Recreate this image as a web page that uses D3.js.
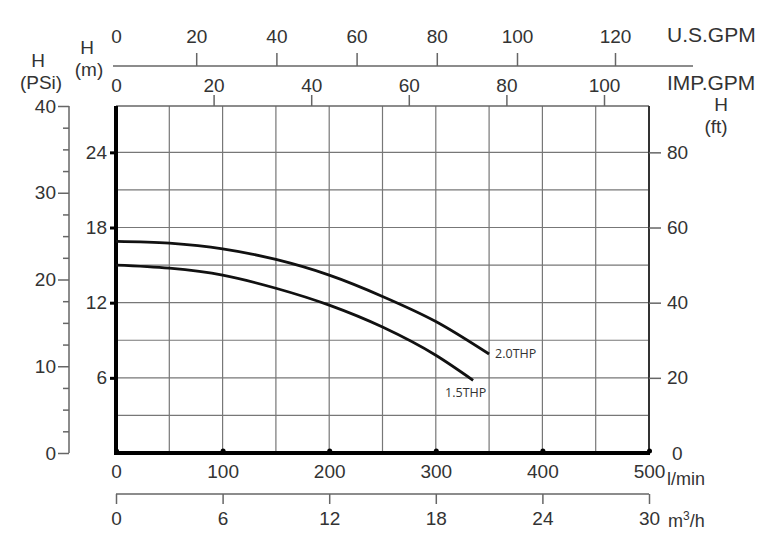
<!DOCTYPE html>
<html>
<head>
<meta charset="utf-8">
<script src="https://cdn.jsdelivr.net/npm/d3@7"></script>
<style>
  body { margin: 0; background: #fff; }
  svg text { font-family: "Liberation Sans", Arial, sans-serif; fill: #333; }
</style>
</head>
<body>
<div id="chart"></div>
<script>
// pump curves, flow in l/min and head in m
const flow20 = [0, 50, 100, 150, 200, 250, 300, 350];
const head20 = [16.9, 16.75, 16.3, 15.45, 14.2, 12.5, 10.5, 7.9];
const flow15 = [0, 50, 100, 150, 200, 250, 300, 335];
const head15 = [15.0, 14.75, 14.2, 13.15, 11.8, 10.05, 7.8, 5.8];
const curveNames = ["2.0THP", "1.5THP"];

// tick labels for every scale
const lminTicks = [0, 100, 200, 300, 400, 500];
const m3hTicks = [0, 6, 12, 18, 24, 30];
const usTicks = [0, 20, 40, 60, 80, 100, 120];
const impTicks = [0, 20, 40, 60, 80, 100];
const mTicks = [6, 12, 18, 24];
const ftTicks = [0, 20, 40, 60, 80];
const psiTicks = [0, 10, 20, 30, 40];

const width = 778, height = 542;
const plot = { left: 116, right: 649, top: 106, bottom: 453 };

const svg = d3.select("#chart").append("svg")
    .attr("width", width).attr("height", height);

// scales
const x = d3.scaleLinear().domain([0, 500]).range([plot.left, plot.right]);
const xM3 = d3.scaleLinear().domain([0, 30]).range([plot.left, plot.right]);
const xImp = d3.scaleLinear().domain([0, 100]).range([plot.left, 604]);
// the printed US scale is not quite even at the end
const xUs = d3.scaleLinear().domain([0, 100, 120]).range([plot.left, 517, 615]);
const yM = d3.scaleLinear().domain([0, 27.7]).range([plot.bottom, plot.top]);
const yFt = d3.scaleLinear().domain([0, 27.7 * 80 / 24]).range([plot.bottom, plot.top]);
const yPsi = d3.scaleLinear().domain([0, 40]).range([plot.bottom, plot.top]);

// grid
const gridG = svg.append("g").attr("class", "grid")
    .attr("stroke", "#777").attr("stroke-width", 1.2);

gridG.selectAll("line.v")
    .data(d3.range(50, 500, 50))
    .join("line")
    .attr("class", "v")
    .attr("x1", d => x(d)).attr("x2", d => x(d))
    .attr("y1", plot.top).attr("y2", plot.bottom);

gridG.selectAll("line.h")
    .data(d3.range(3, 25, 3))
    .join("line")
    .attr("class", "h")
    .attr("x1", plot.left).attr("x2", plot.right)
    .attr("y1", d => yM(d)).attr("y2", d => yM(d));

// frame: top thin, right medium, left + bottom thick
svg.append("line").attr("x1", plot.left).attr("x2", plot.right)
    .attr("y1", plot.top).attr("y2", plot.top)
    .attr("stroke", "#666").attr("stroke-width", 1.5);
svg.append("line").attr("x1", plot.right).attr("x2", plot.right)
    .attr("y1", plot.top).attr("y2", plot.bottom)
    .attr("stroke", "#333").attr("stroke-width", 2);
svg.append("line").attr("x1", plot.left).attr("x2", plot.left)
    .attr("y1", plot.top).attr("y2", plot.bottom)
    .attr("stroke", "#000").attr("stroke-width", 4);
svg.append("line").attr("x1", plot.left - 2).attr("x2", plot.right + 1)
    .attr("y1", plot.bottom).attr("y2", plot.bottom)
    .attr("stroke", "#000").attr("stroke-width", 4);

// helper to style an axis group
const styleAxis = (g, color, tw) => {
    g.select(".domain").remove();
    g.selectAll(".tick line").attr("stroke", color).attr("stroke-width", tw);
    g.selectAll(".tick text").attr("fill", "#333")
        .style("font-size", "19px");
};

// bottom l/min axis
const lminG = svg.append("g")
    .attr("transform", `translate(0,${plot.bottom})`)
    .call(d3.axisBottom(x).tickValues(lminTicks).tickSize(0).tickPadding(12))
    .call(g => styleAxis(g, "#000", 3));
lminG.selectAll(".tick").append("circle")
    .attr("r", 2.5).attr("cy", -2).attr("fill", "#000");

svg.append("text").attr("x", 667).attr("y", 485)
    .style("font-size", "18px").text("l/min");

// bottom m3/h axis
const m3Y = 494;
svg.append("line").attr("x1", xM3(0)).attr("x2", xM3(30))
    .attr("y1", m3Y).attr("y2", m3Y)
    .attr("stroke", "#666").attr("stroke-width", 1.5);
svg.append("g")
    .attr("transform", `translate(0,${m3Y})`)
    .call(d3.axisBottom(xM3).tickValues(m3hTicks).tickSize(10).tickPadding(8))
    .call(g => styleAxis(g, "#666", 1.5));

const m3Label = svg.append("text").attr("x", 668).attr("y", 527)
    .style("font-size", "18px");
m3Label.append("tspan").text("m");
m3Label.append("tspan").attr("dy", -7).style("font-size", "12px").text("3");
m3Label.append("tspan").attr("dy", 7).text("/h");

// top US GPM axis
const usY = 66;
svg.append("line").attr("x1", plot.left - 3).attr("x2", 693)
    .attr("y1", usY).attr("y2", usY)
    .attr("stroke", "#666").attr("stroke-width", 1.5);
svg.append("g")
    .attr("transform", `translate(0,${usY})`)
    .call(d3.axisTop(xUs).tickValues(usTicks).tickSize(13).tickPadding(10))
    .call(g => styleAxis(g, "#666", 1.5))
    .call(g => g.selectAll(".tick").filter(d => d === 0).select("line").remove());

svg.append("text").attr("x", 667).attr("y", 42)
    .style("font-size", "21px").text("U.S.GPM");

// top IMP GPM axis (sits on the frame top)
svg.append("g")
    .attr("transform", `translate(0,${plot.top})`)
    .call(d3.axisTop(xImp).tickValues(impTicks).tickSize(11).tickPadding(3))
    .call(g => styleAxis(g, "#666", 1.5))
    .call(g => g.selectAll(".tick").filter(d => d === 0).select("line").remove());

svg.append("text").attr("x", 667).attr("y", 90)
    .style("font-size", "21px").text("IMP.GPM");

// left m axis, on the thick frame
svg.append("g")
    .attr("transform", `translate(${plot.left},0)`)
    .call(d3.axisLeft(yM).tickValues(mTicks).tickSize(6).tickPadding(3))
    .call(g => styleAxis(g, "#000", 3));

svg.append("text").attr("x", 87).attr("y", 54)
    .attr("text-anchor", "middle").style("font-size", "19px").text("H");
svg.append("text").attr("x", 89).attr("y", 76)
    .attr("text-anchor", "middle").style("font-size", "19px").text("(m)");

// left psi axis with minor ticks
const psiX = 69;
svg.append("line").attr("x1", psiX).attr("x2", psiX)
    .attr("y1", plot.top).attr("y2", plot.bottom)
    .attr("stroke", "#666").attr("stroke-width", 1.5);
svg.append("g")
    .attr("transform", `translate(${psiX},0)`)
    .call(d3.axisLeft(yPsi).tickValues(d3.range(0, 40.1, 2.5).filter(d => d % 10 !== 0))
        .tickSize(6).tickFormat(""))
    .call(g => styleAxis(g, "#666", 1.5));
svg.append("g")
    .attr("transform", `translate(${psiX},0)`)
    .call(d3.axisLeft(yPsi).tickValues(psiTicks).tickSize(11).tickPadding(2))
    .call(g => styleAxis(g, "#666", 1.5));

svg.append("text").attr("x", 38).attr("y", 67)
    .attr("text-anchor", "middle").style("font-size", "19px").text("H");
svg.append("text").attr("x", 41).attr("y", 89)
    .attr("text-anchor", "middle").style("font-size", "19px").text("(PSi)");

// right ft axis
svg.append("g")
    .attr("transform", `translate(${plot.right},0)`)
    .call(d3.axisRight(yFt).tickValues(ftTicks).tickSize(12).tickPadding(6))
    .call(g => styleAxis(g, "#666", 1.5))
    .call(g => g.selectAll(".tick").filter(d => d === 0).select("line").remove())
    .call(g => g.selectAll(".tick").filter(d => d === 0).select("text").attr("x", 23));

svg.append("text").attr("x", 721).attr("y", 111)
    .attr("text-anchor", "middle").style("font-size", "19px").text("H");
svg.append("text").attr("x", 716).attr("y", 133)
    .attr("text-anchor", "middle").style("font-size", "19px").text("(ft)");

// curves
const series = [
    { name: curveNames[0], flow: flow20, head: head20 },
    { name: curveNames[1], flow: flow15, head: head15 }
];

const line = d3.line()
    .x(d => x(d[0]))
    .y(d => yM(d[1]))
    .curve(d3.curveMonotoneX);

svg.selectAll("path.curve")
    .data(series)
    .join("path")
    .attr("class", "curve")
    .attr("d", s => line(d3.zip(s.flow, s.head)))
    .attr("fill", "none")
    .attr("stroke", "#111")
    .attr("stroke-width", 2.8);

// curve end labels
svg.selectAll("text.curveLabel")
    .data(series)
    .join("text")
    .attr("class", "curveLabel")
    .attr("x", (s, i) => i === 0 ? x(s.flow[s.flow.length - 1]) + 6 : x(s.flow[s.flow.length - 1]) - 28)
    .attr("y", (s, i) => i === 0 ? yM(s.head[s.head.length - 1]) + 4 : yM(s.head[s.head.length - 1]) + 17)
    .style("font-size", "12.5px")
    .style("font-family", "'Open Sans', 'Liberation Sans', sans-serif")
    .text(s => s.name);
</script>
</body>
</html>
